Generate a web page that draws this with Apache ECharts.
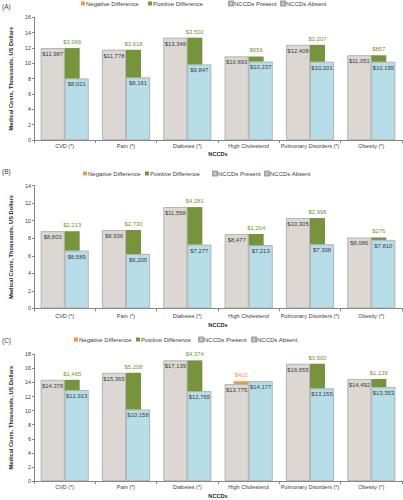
<!DOCTYPE html>
<html><head><meta charset="utf-8">
<script src="https://cdn.jsdelivr.net/npm/echarts@6/dist/echarts.min.js"></script>
<style>html,body{margin:0;padding:0;background:#fff}#c{width:403px;height:500px}</style>
</head><body><div id="c"></div>
<script>
// ---- data (US dollars) ----
const categories = ['CVD (*)', 'Pain (*)', 'Diabetes (*)', 'High Cholesterol', 'Pulmonary Disorders (*)', 'Obesity (*)'];
const panelLetters = ['(A)', '(B)', '(C)'];
const legendNames = ['Negative Difference', 'Positive Difference', 'NCCDs Present', 'NCCDs Absent'];

const presentA = [11987, 11778, 13349, 10893, 12408, 11051];
const absentA  = [8021, 8161, 9847, 10237, 10201, 10195];
const diffA    = [3966, 3618, 3502, 656, 2207, 857];

const presentB = [8803, 8936, 11558, 8477, 10305, 8086];
const absentB  = [6589, 6205, 7277, 7213, 7308, 7810];
const diffB    = [2213, 2730, 4281, 1264, 2996, 276];

const presentC = [14378, 15365, 17139, 13775, 16655, 14492];
const absentC  = [12913, 10158, 12765, 14177, 13155, 13353];
const diffC    = [1465, 5208, 4374, -402, 3500, 1139];

const yMaxes = [16, 14, 18];
const yInterval = 2;
const yAxisName = 'Medical Costs, Thousands, US Dollars';
const xAxisName = 'NCCDs';

// ---- styling / layout ----
const C_PRESENT = '#ddd7d3', C_ABSENT = '#b7dde8', C_POS = '#77933c', C_NEG = '#f79646';
const C_BORDER = '#a6a6a6', C_TEXT = '#404040', C_AXIS = '#868686';
const FONT = 'Liberation Sans, Arial, sans-serif';

const panels = [
  {present: presentA, absent: absentA, diff: diffA, top: 17.3, bottom: 140, legendY: 4, titleY: 7, catOff: 3.2, nameGap: 11, legendX: [81, 148, 228, 280]},
  {present: presentB, absent: absentB, diff: diffB, top: 185.7, bottom: 308.3, legendY: 174, titleY: 172, catOff: 4.2, nameGap: 13.5, legendX: [83, 145, 212, 264]},
  {present: presentC, absent: absentC, diff: diffC, top: 354.3, bottom: 481.7, legendY: 340, titleY: 340.5, catOff: 2.8, nameGap: 12, legendX: [74, 136, 198, 251]}
];

const money = v => '$' + Math.abs(v).toLocaleString('en-US');

const grid = [], xAxis = [], yAxis = [], series = [], legend = [], title = [];
panels.forEach((p, i) => {
  grid.push({left: 21, width: 381, top: p.top, height: p.bottom - p.top});
  title.push({text: panelLetters[i], left: 2, top: p.titleY - 4, padding: 0,
    textStyle: {fontSize: 6.5, fontWeight: 'normal', color: C_TEXT, fontFamily: FONT}});
  legendNames.forEach((n, k) => {
    legend.push({data: [n], left: p.legendX[k], top: p.legendY - 3.5, padding: 0,
      itemWidth: 4, itemHeight: 4, icon: 'rect',
      textStyle: {fontSize: 6, color: C_TEXT, fontFamily: FONT, padding: [0, 0, 0, -4]}});
  });
  xAxis.push({type: 'category', gridIndex: i, data: categories,
    axisLine: {lineStyle: {color: C_AXIS, width: 1}},
    axisTick: {show: true, length: 3, lineStyle: {color: C_AXIS}},
    axisLabel: {fontSize: 5.5, color: C_TEXT, margin: p.catOff, fontFamily: FONT, interval: 0},
    name: xAxisName, nameLocation: 'middle', nameGap: p.nameGap,
    nameTextStyle: {fontSize: 5.6, fontWeight: 'bold', color: '#262626', fontFamily: FONT}});
  xAxis.push({type: 'category', gridIndex: i, data: categories, show: false});
  yAxis.push({type: 'value', gridIndex: i, min: 0, max: yMaxes[i], interval: yInterval,
    splitLine: {show: false},
    axisLine: {show: true, lineStyle: {color: C_AXIS}},
    axisTick: {show: true, length: 2, lineStyle: {color: C_AXIS}},
    axisLabel: {fontSize: 5.5, color: C_TEXT, margin: 3, fontFamily: FONT},
    name: yAxisName, nameLocation: 'middle', nameGap: 13, nameRotate: 90,
    nameTextStyle: {fontSize: 5.7, fontWeight: 'bold', color: '#262626', fontFamily: FONT}});

  const valLabel = (arr) => ({show: true, position: 'insideTop', distance: 3, fontSize: 5.9,
    color: C_TEXT, fontFamily: FONT, formatter: q => money(arr[q.dataIndex])});
  series.push({name: 'NCCDs Present', type: 'bar', xAxisIndex: 2 * i, yAxisIndex: i,
    barWidth: 24, barGap: 0, data: p.present.map(v => v / 1000),
    itemStyle: {color: C_PRESENT, borderColor: C_BORDER, borderWidth: 0.8},
    label: valLabel(p.present)});
  series.push({name: 'NCCDs Absent', type: 'bar', xAxisIndex: 2 * i, yAxisIndex: i,
    barWidth: 24, barGap: 0, data: p.absent.map(v => v / 1000),
    itemStyle: {color: C_ABSENT, borderColor: C_BORDER, borderWidth: 0.8},
    label: valLabel(p.absent)});

  // difference bars (overlay axis): negative stack on left half, positive on right half
  const diffLabel = (col) => ({show: true, position: 'top', distance: 3, fontSize: 5.9,
    color: col, fontFamily: FONT, formatter: q => money(p.diff[q.dataIndex])});
  series.push({name: 'negBase' + i, type: 'bar', xAxisIndex: 2 * i + 1, yAxisIndex: i,
    stack: 'neg' + i, barWidth: 15, barGap: 0, silent: true,
    itemStyle: {color: 'rgba(0,0,0,0)'},
    data: p.diff.map((d, j) => d < 0 ? p.present[j] / 1000 : '-')});
  series.push({name: 'Negative Difference', type: 'bar', xAxisIndex: 2 * i + 1, yAxisIndex: i,
    stack: 'neg' + i, barWidth: 15, barGap: 0, itemStyle: {color: C_NEG},
    label: diffLabel(C_NEG),
    data: p.diff.map(d => d < 0 ? -d / 1000 : '-')});
  series.push({name: 'posBase' + i, type: 'bar', xAxisIndex: 2 * i + 1, yAxisIndex: i,
    stack: 'pos' + i, barWidth: 15, barGap: 0, silent: true,
    itemStyle: {color: 'rgba(0,0,0,0)'},
    data: p.diff.map((d, j) => d > 0 ? p.absent[j] / 1000 : '-')});
  series.push({name: 'Positive Difference', type: 'bar', xAxisIndex: 2 * i + 1, yAxisIndex: i,
    stack: 'pos' + i, barWidth: 15, barGap: 0, itemStyle: {color: C_POS},
    label: diffLabel(C_POS),
    data: p.diff.map(d => d > 0 ? d / 1000 : '-')});
});

const chart = echarts.init(document.getElementById('c'), null, {renderer: 'svg'});
chart.setOption({animation: false, backgroundColor: '#fff', title, legend, grid, xAxis, yAxis, series});
</script>
</body></html>
